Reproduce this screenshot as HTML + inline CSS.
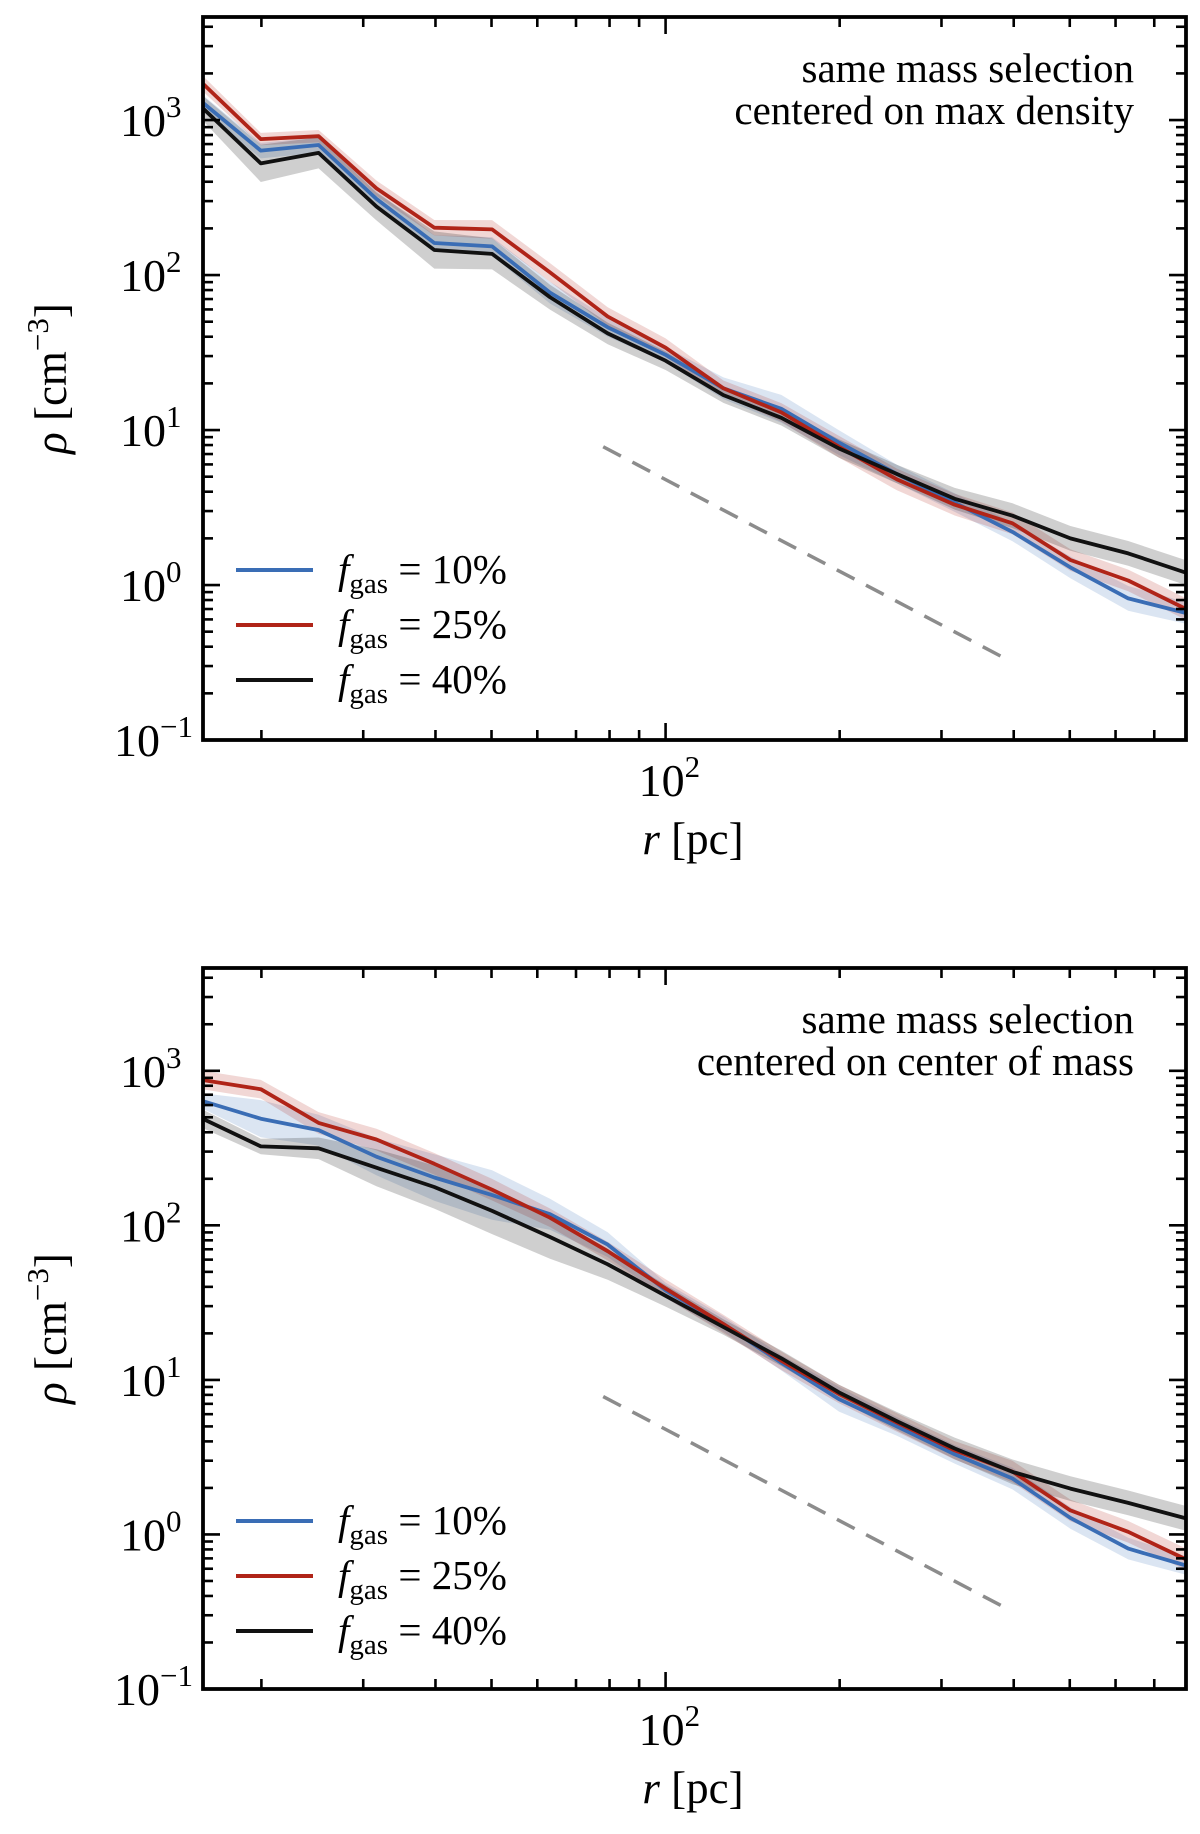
<!DOCTYPE html>
<html><head><meta charset="utf-8">
<style>
html,body{margin:0;padding:0;background:#fff;}
svg{display:block;font-family:"Liberation Serif","DejaVu Serif",serif;}
</style></head>
<body>
<svg id="fig" width="1200" height="1834" viewBox="0 0 1200 1834" xmlns="http://www.w3.org/2000/svg"></svg>
<script>
// ---- shared data ----
const radii = [15.85,19.95,25.12,31.62,39.81,50.12,63.1,79.43,100,125.9,158.5,199.5,251.2,316.2,398.1,501.2,631,794.3];
const seriesLabels = ["10%","25%","40%"];
const seriesColors = ["#3a6db5","#b02418","#111111"];
const xTickLabels = ["10","2"];
const yTickExps = [-1,0,1,2,3];
const dashR = [78,390];
const dashRho = [7.8,0.33];

// top panel: centered on max density
const topBlue  = [1290,635,690,310,161,153,77,46,30.6,18.6,13.7,8.3,5.2,3.4,2.2,1.3,0.82,0.66];
const topRed   = [1715,754,787,363,202,197,104,54,34,18.6,13,7.8,4.8,3.3,2.5,1.45,1.07,0.7];
const topBlack = [1190,525,614,277,145,137,72,42,28,16.8,12,7.6,5.2,3.6,2.8,2.0,1.6,1.2];
const topBlueErr  = [0.05,0.05,0.05,0.05,0.05,0.06,0.07,0.06,0.05,0.07,0.09,0.08,0.06,0.06,0.06,0.07,0.08,0.07];
const topRedErr   = [0.05,0.04,0.04,0.05,0.05,0.06,0.06,0.06,0.06,0.05,0.06,0.07,0.07,0.07,0.07,0.07,0.07,0.07];
const topBlackErr = [0.08,0.12,0.10,0.09,0.12,0.10,0.08,0.07,0.06,0.05,0.05,0.06,0.06,0.07,0.08,0.08,0.08,0.08];

// bottom panel: centered on center of mass
const botBlue  = [636,490,413,278,204,157,118,75,38,23,12.9,7.5,5.0,3.3,2.3,1.28,0.81,0.63];
const botRed   = [870,760,460,359,250,170,112,68,39,23,13.3,8.1,5.3,3.5,2.55,1.43,1.04,0.69];
const botBlack = [488,324,315,236,177,124,84,56,35,22,13.8,8.3,5.4,3.6,2.54,1.98,1.6,1.27];
const botBlueErr  = [0.05,0.12,0.10,0.12,0.15,0.16,0.10,0.08,0.05,0.05,0.05,0.08,0.06,0.06,0.07,0.07,0.07,0.06];
const botRedErr   = [0.06,0.06,0.07,0.07,0.07,0.07,0.06,0.06,0.06,0.06,0.06,0.06,0.06,0.06,0.07,0.07,0.07,0.07];
const botBlackErr = [0.06,0.05,0.07,0.12,0.14,0.15,0.14,0.10,0.07,0.05,0.05,0.05,0.06,0.07,0.08,0.08,0.08,0.08];

const NS = "http://www.w3.org/2000/svg";
const svg = document.getElementById("fig");
const XMIN = Math.log10(15.85), XMAX = Math.log10(794.3);
const YMIN = -1, YMAX = 3.665;

function mk(tag, attrs, parent){
  const e = document.createElementNS(NS, tag);
  for (const k in attrs) e.setAttribute(k, attrs[k]);
  (parent||svg).appendChild(e);
  return e;
}

function drawPanel(top, bottom, titleLines, blue, red, black, blueErr, redErr, blackErr, pname){
  const L = 203, R = 1186, T = top, B = bottom;
  const sx = r => L + (Math.log10(r) - XMIN) / (XMAX - XMIN) * (R - L);
  const sy = v => B - (Math.log10(v) - YMIN) / (YMAX - YMIN) * (B - T);
  const g = mk("g", {});
  
  
  const clipId = pname + "-clip";
  const cp = mk("clipPath", {id: clipId}, g);
  mk("rect", {x: L, y: T, width: R - L, height: B - T}, cp);
  const plot = mk("g", {"clip-path": "url(#" + clipId + ")"}, g);

  const data = [blue, red, black], errs = [blueErr, redErr, blackErr];
  const names = ["blue", "red", "black"];
  data.forEach((vals, s) => {
    let up = "", lo = "";
    vals.forEach((v, i) => {
      const lv = Math.log10(v);
      up += (i ? "L" : "M") + sx(radii[i]).toFixed(1) + "," + sy(Math.pow(10, lv + errs[s][i])).toFixed(1);
    });
    for (let i = vals.length - 1; i >= 0; i--) {
      const lv = Math.log10(vals[i]);
      lo += "L" + sx(radii[i]).toFixed(1) + "," + sy(Math.pow(10, lv - errs[s][i])).toFixed(1);
    }
    const band = mk("path", {d: up + lo + "Z", fill: seriesColors[s], "fill-opacity": s === 2 ? 0.2 : 0.18, stroke: "none"}, plot);
    
    
  });
  data.forEach((vals, s) => {
    const pts = vals.map((v, i) => sx(radii[i]).toFixed(1) + "," + sy(v).toFixed(1)).join(" ");
    const ln = mk("polyline", {points: pts, fill: "none", stroke: seriesColors[s], "stroke-width": 3.8, "stroke-linejoin": "round"}, plot);
    
    
  });
  const dl = mk("line", {x1: sx(dashR[0]), y1: sy(dashRho[0]), x2: sx(dashR[1]), y2: sy(dashRho[1]), stroke: "#8c8c8c", "stroke-width": 3.5, "stroke-dasharray": "20,13"}, plot);
  
  

  const tk = mk("g", {stroke: "#000", "stroke-width": 2.6}, g);
  for (let e = YMIN; e <= 3; e++) {
    for (let m = 1; m <= 9; m++) {
      const v = m * Math.pow(10, e);
      if (Math.log10(v) > YMAX) break;
      const y = sy(v), len = m === 1 ? 17 : 10;
      mk("line", {x1: L, y1: y, x2: L + len, y2: y}, tk);
      mk("line", {x1: R, y1: y, x2: R - len, y2: y}, tk);
    }
  }
  [20,30,40,50,60,70,80,90,100,200,300,400,500,600,700].forEach(v => {
    const x = sx(v), len = v === 100 ? 17 : 10;
    mk("line", {x1: x, y1: B, x2: x, y2: B - len}, tk);
    mk("line", {x1: x, y1: T, x2: x, y2: T + len}, tk);
  });
  const fr = mk("rect", {x: L, y: T, width: R - L, height: B - T, fill: "none", stroke: "#000", "stroke-width": 3.8}, g);
  
  

  yTickExps.forEach(e => {
    const t = mk("text", {x: e < 0 ? 114 : 120, y: sy(Math.pow(10, e)) + 16, "font-size": 46}, g);
    
    
    t.textContent = "10";
    const sup = mk("tspan", {dy: -19, "font-size": 31}, t);
    sup.textContent = e < 0 ? "\u2212" + (-e) : String(e);
  });
  const xt = mk("text", {x: sx(100) - 27, y: B + 56, "font-size": 46}, g);
  
  
  xt.textContent = xTickLabels[0];
  const xs = mk("tspan", {dy: -19, "font-size": 31}, xt);
  xs.textContent = xTickLabels[1];
  const xa = mk("text", {x: 693, y: B + 114, "font-size": 45, "text-anchor": "middle"}, g);
  
  
  const ri = mk("tspan", {"font-style": "italic"}, xa); ri.textContent = "r";
  const rp = mk("tspan", {}, xa); rp.textContent = " [pc]";
  const cy = (T + B) / 2;
  const ya = mk("text", {x: 0, y: 0, "font-size": 45, "text-anchor": "middle", transform: "translate(66," + cy + ") rotate(-90)"}, g);
  
  
  const rho = mk("tspan", {"font-style": "italic"}, ya); rho.textContent = "\u03C1";
  const cm = mk("tspan", {}, ya); cm.textContent = " [cm";
  const cme = mk("tspan", {dy: -18, "font-size": 31}, ya); cme.textContent = "\u22123";
  const cmb = mk("tspan", {dy: 18}, ya); cmb.textContent = "]";

  titleLines.forEach((s, i) => {
    const a = mk("text", {x: 1134, y: T + 65 + i * 42, "font-size": 41, "text-anchor": "end"}, g);
    
    
    a.textContent = s;
  });

  seriesLabels.forEach((lab, s) => {
    const y = T + 553 + s * 55;
    const lg = mk("g", {}, g);
    
    
    mk("line", {x1: 236, y1: y, x2: 313, y2: y, stroke: seriesColors[s], "stroke-width": 4}, lg);
    const t = mk("text", {x: 338, y: y + 13, "font-size": 41}, lg);
    const f = mk("tspan", {"font-style": "italic"}, t); f.textContent = "f";
    const sb = mk("tspan", {dy: 10, "font-size": 29}, t); sb.textContent = "gas";
    const rest = mk("tspan", {dy: -10}, t); rest.textContent = " = " + lab;
  });
}

drawPanel(17, 740, ["same mass selection", "centered on max density"], topBlue, topRed, topBlack, topBlueErr, topRedErr, topBlackErr, "top-panel");
drawPanel(968, 1689, ["same mass selection", "centered on center of mass"], botBlue, botRed, botBlack, botBlueErr, botRedErr, botBlackErr, "bottom-panel");
</script>
</body></html>
